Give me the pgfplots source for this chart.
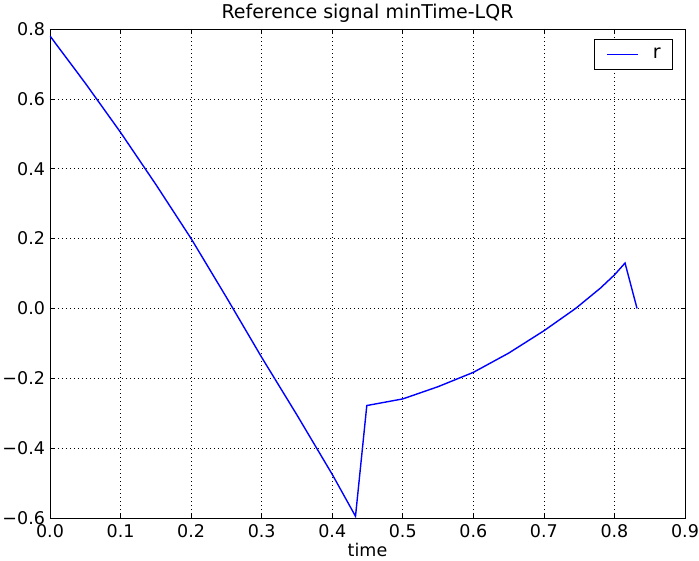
\documentclass[border=0pt]{standalone}
\usepackage{pgfplots}
\pgfplotsset{compat=1.18}
\usepackage{fontspec}
\setmainfont{DejaVu Sans}
\usetikzlibrary{calc}

\begin{document}
\fontsize{17.5bp}{21bp}\selectfont
\begin{tikzpicture}
\begin{axis}[
    name=ax,
    scale only axis,
    width=635bp, height=489bp,
    xmin=0, xmax=0.9, ymin=-0.6, ymax=0.8,
    xtick={0,0.1,0.2,0.3,0.4,0.5,0.6,0.7,0.8,0.9},
    xticklabels={0.0,0.1,0.2,0.3,0.4,0.5,0.6,0.7,0.8,0.9},
    ytick={-0.6,-0.4,-0.2,0,0.2,0.4,0.6,0.8},
    yticklabels={−0.6,−0.4,−0.2,0.0,0.2,0.4,0.6,0.8},
    tick align=inside,
    major tick length=4bp,
    tick style={black, line width=0.6bp},
    axis line style={black, line width=0.9bp},
    grid=major,
    major grid style={black, line width=0.6bp, dash pattern=on 1bp off 3bp},
    xticklabel style={font=\fontsize{17.5bp}{21bp}\selectfont, yshift=0bp},
    yticklabel style={font=\fontsize{17.5bp}{21bp}\selectfont, xshift=1bp},
    title={Reference signal minTime-LQR},
    title style={font=\fontsize{19bp}{22bp}\selectfont, yshift=-5bp},
    xlabel={time},
    xlabel style={font=\fontsize{17.5bp}{21bp}\selectfont, yshift=5.5bp},
    legend style={at={(rel axis cs:1,1)}, anchor=north east, xshift=-12bp, yshift=-10bp,
        draw=black, line width=0.6bp, font=\fontsize{19bp}{22bp}\selectfont,
        inner sep=0pt, nodes={inner sep=0pt, draw=none}},
    legend cell align=left,
    legend image code/.code={
        \path[draw=none, fill=none] (0bp,-15bp) rectangle (44bp,15bp);
        \draw[#1, line width=1.4bp] (13bp,0bp) -- (44bp,0bp);},
]
\addplot[color={rgb,255:red,0;green,0;blue,255}, line width=1.4bp] coordinates {
    (0.000, 0.780) (0.050, 0.645) (0.100, 0.504) (0.150, 0.355)
    (0.200, 0.200) (0.250, 0.032) (0.300, -0.140) (0.350, -0.305)
    (0.400, -0.475) (0.433, -0.595)
    (0.449, -0.278) (0.500, -0.259) (0.550, -0.224) (0.600, -0.183)
    (0.650, -0.128) (0.700, -0.064) (0.745, 0.000) (0.780, 0.058)
    (0.800, 0.096) (0.815, 0.130) (0.832, 0.000)
};
\addlegendentry{\kern14bp r\kern12bp}
\end{axis}
\pgfresetboundingbox
\path ($(ax.south west)+(-50bp,-42bp)$) rectangle ($(ax.north east)+(14bp,29bp)$);
\end{tikzpicture}
\end{document}
